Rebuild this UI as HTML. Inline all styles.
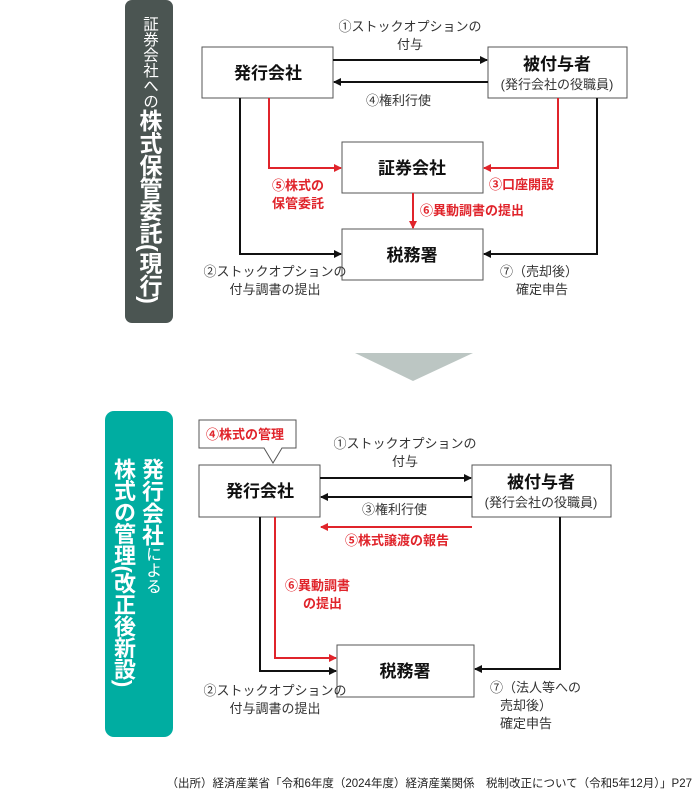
<!DOCTYPE html>
<html><head><meta charset="utf-8"><style>
body{margin:0;width:700px;height:797px;background:#fff;position:relative;overflow:hidden;font-family:"Liberation Sans","Noto Sans CJK JP",sans-serif;}
.p{position:absolute;color:#fff;writing-mode:vertical-rl;line-height:1;}
svg{position:absolute;left:0;top:0}
</style></head><body>
<div style="position:absolute;left:125px;top:0;width:48px;height:323px;background:#4b5552;border-radius:7px"></div>
<div class="p" style="left:137px;top:16px;font-size:15.5px">証券会社への<b style="font-size:23px;letter-spacing:-0.5px">株式保管委託(現行)</b></div>
<div style="position:absolute;left:105px;top:411px;width:68px;height:326px;background:#00ada1;border-radius:9px"></div>
<div class="p" style="left:140px;top:458px;font-size:16px"><b style="font-size:22px">発行会社</b>による</div>
<div class="p" style="left:112px;top:458px;font-size:22px;font-weight:bold;letter-spacing:-0.5px">株式の管理(改正後新設)</div>
<svg width="700" height="797" font-family="Liberation Sans, Noto Sans CJK JP, sans-serif">
<defs>
<marker id="k" markerWidth="8" markerHeight="8" refX="7" refY="4" orient="auto" markerUnits="userSpaceOnUse"><path d="M0,0L8,4L0,8z" fill="#111"/></marker>
<marker id="r" markerWidth="8" markerHeight="8" refX="7" refY="4" orient="auto" markerUnits="userSpaceOnUse"><path d="M0,0L8,4L0,8z" fill="#e0242b"/></marker>
</defs>
<g fill="#fff" stroke="#555" stroke-width="1">
<rect x="202" y="47" width="131" height="51"/>
<rect x="488" y="47" width="139" height="51"/>
<rect x="342" y="142" width="141" height="51"/>
<rect x="342" y="229" width="141" height="51"/>
<rect x="199" y="465" width="121" height="52"/>
<rect x="472" y="465" width="139" height="52"/>
<rect x="337" y="645" width="137" height="52"/>
</g>
<g fill="none" stroke-width="2">
<path d="M333 60H487" stroke="#111" marker-end="url(#k)"/>
<path d="M488 82H334" stroke="#111" marker-end="url(#k)"/>
<path d="M240 98V254H341" stroke="#111" marker-end="url(#k)"/>
<path d="M597 98V254H484" stroke="#111" marker-end="url(#k)"/>
<path d="M269 98V168H341" stroke="#e0242b" marker-end="url(#r)"/>
<path d="M558 98V168H484" stroke="#e0242b" marker-end="url(#r)"/>
<path d="M413 193V228" stroke="#e0242b" marker-end="url(#r)"/>
<path d="M320 478H471" stroke="#111" marker-end="url(#k)"/>
<path d="M472 497H321" stroke="#111" marker-end="url(#k)"/>
<path d="M472 527H321" stroke="#e0242b" marker-end="url(#r)"/>
<path d="M260 517V671H336" stroke="#111" marker-end="url(#k)"/>
<path d="M275 517V658H336" stroke="#e0242b" marker-end="url(#r)"/>
<path d="M560 517V669H475" stroke="#111" marker-end="url(#k)"/>
</g>
<polygon points="355,353 473,353 413,381" fill="#bcc6c3"/>
<path d="M199 420H296V448H282L273 463L264 448H199Z" fill="#fff" stroke="#555"/>
<g font-size="17" font-weight="bold" fill="#111" text-anchor="middle">
<text x="268" y="79">発行会社</text>
<text x="557" y="70">被付与者</text>
<text x="412" y="174">証券会社</text>
<text x="412" y="261">税務署</text>
<text x="260" y="497">発行会社</text>
<text x="541" y="488">被付与者</text>
<text x="405" y="677">税務署</text>
</g>
<g font-size="13" fill="#333">
<text x="557" y="89" text-anchor="middle">(発行会社の役職員)</text>
<text x="541" y="507" text-anchor="middle">(発行会社の役職員)</text>
<text x="410" y="31" text-anchor="middle">①ストックオプションの</text>
<text x="410" y="49" text-anchor="middle">付与</text>
<text x="366" y="105">④権利行使</text>
<text x="275" y="276" text-anchor="middle">②ストックオプションの</text>
<text x="275" y="294" text-anchor="middle">付与調書の提出</text>
<text x="500" y="276">⑦（売却後）</text>
<text x="516" y="294">確定申告</text>
<text x="405" y="448" text-anchor="middle">①ストックオプションの</text>
<text x="405" y="466" text-anchor="middle">付与</text>
<text x="362" y="514">③権利行使</text>
<text x="275" y="695" text-anchor="middle">②ストックオプションの</text>
<text x="275" y="713" text-anchor="middle">付与調書の提出</text>
<text x="490" y="692">⑦（法人等への</text>
<text x="500" y="710">売却後）</text>
<text x="500" y="728">確定申告</text>
</g>
<g font-size="13" font-weight="bold" fill="#e0242b">
<text x="272" y="190">⑤株式の</text>
<text x="272" y="208">保管委託</text>
<text x="489" y="189">③口座開設</text>
<text x="420" y="215">⑥異動調書の提出</text>
<text x="206" y="439">④株式の管理</text>
<text x="345" y="545">⑤株式譲渡の報告</text>
<text x="285" y="590">⑥異動調書</text>
<text x="303" y="608">の提出</text>
</g>
<text x="692" y="787" font-size="11.5" fill="#222" text-anchor="end">（出所）経済産業省「令和6年度（2024年度）経済産業関係　税制改正について（令和5年12月）」P27</text>
</svg>
</body></html>
